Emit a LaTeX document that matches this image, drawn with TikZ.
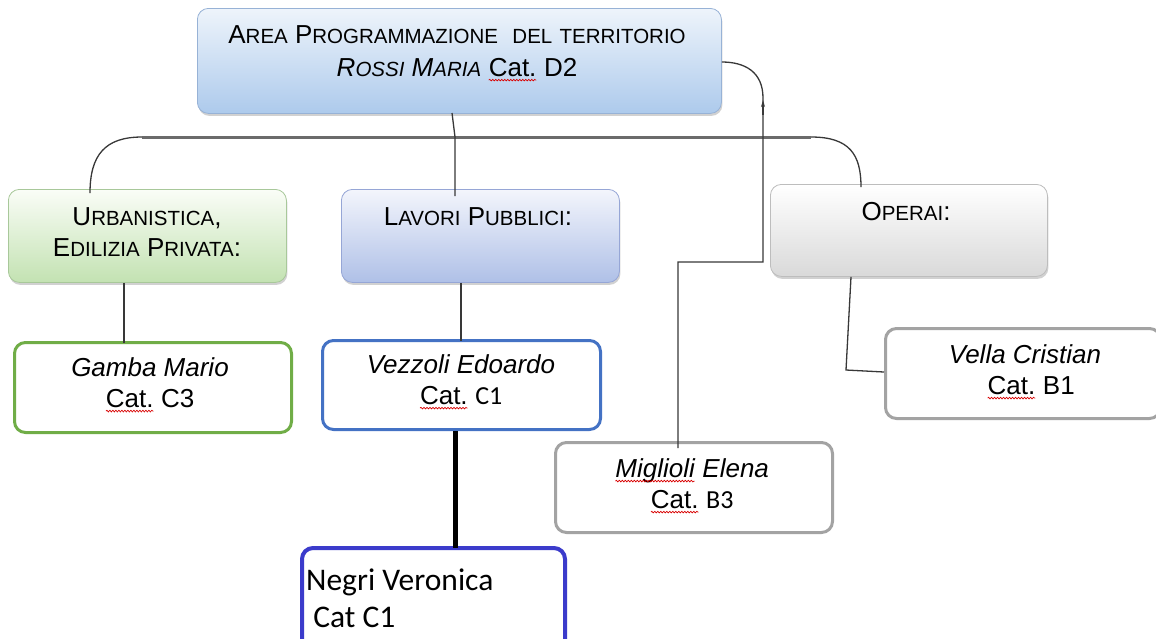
\documentclass[tikz,border=0pt]{standalone}
\usepackage{fontspec}
\setmainfont{Liberation Sans}
\newfontfamily\calib{Carlito}
\usetikzlibrary{shadows,decorations.pathmorphing,arrows.meta}
\newcommand\bigf{\fontsize{26}{31}\selectfont}
\newcommand\smc[2]{#1{\fontsize{20.5}{24}\selectfont #2}}
\newcommand\spl[1]{\tikz[baseline=(w.base)]{\node[inner sep=0pt,outer sep=0pt](w){#1};\draw[red!85!black,line width=0.7pt,decorate,decoration={snake,amplitude=0.8pt,segment length=3pt}]([yshift=-3.5pt]w.base west)--([yshift=-3.5pt]w.base east);}}
\definecolor{cgreen}{HTML}{70AD47}
\definecolor{cblue}{HTML}{4472C4}
\definecolor{cnavy}{HTML}{3B3BCB}
\definecolor{cgray}{HTML}{A3A3A3}
\definecolor{topT1}{HTML}{EEF4FB}
\definecolor{topB1}{HTML}{ADCAEC}
\definecolor{topD1}{HTML}{97B2D6}
\definecolor{grnT}{HTML}{FAFDF7}
\definecolor{grnB}{HTML}{C3E2B2}
\definecolor{grnD}{HTML}{A8C89A}
\definecolor{lavT1}{HTML}{F3F5FC}
\definecolor{lavB1}{HTML}{AFC0E7}
\definecolor{lavD1}{HTML}{96A6D6}
\definecolor{opeB1}{HTML}{D9D9D9}
\definecolor{opeD1}{HTML}{BDBDBD}
\tikzset{
  box/.style={rounded corners=11pt, inner sep=0pt, anchor=north west},
  shadedbox/.style={box, line width=0.8pt, drop shadow={shadow xshift=1pt, shadow yshift=-2.5pt, opacity=0.3, fill=black!60}},
  person/.style={box, fill=white, line width=3pt},
  txt/.style={inner sep=0pt, align=center, font=\bigf},
  conn/.style={draw=black!78, line width=1.3pt},
  bar/.style={draw=black!58, line width=3pt},
}
\begin{document}
\begin{tikzpicture}[x=1pt,y=-1pt]
\useasboundingbox (0,0) rectangle (1156,638);
% boxes
\node[shadedbox, top color=topT1, bottom color=topB1, draw=topD1, minimum width=524pt, minimum height=105pt] (top) at (197,8) {};
\node[shadedbox, top color=grnT, bottom color=grnB, draw=grnD, minimum width=278pt, minimum height=93pt] (urb) at (8,189) {};
\node[shadedbox, top color=lavT1, bottom color=lavB1, draw=lavD1, minimum width=278pt, minimum height=93pt] (lav) at (341,189) {};
\node[shadedbox, top color=white, bottom color=opeB1, draw=opeD1, minimum width=277pt, minimum height=92pt] (ope) at (770,184) {};
\node[person, draw=cgreen, minimum width=277pt, minimum height=90pt] (gam) at (13,341) {};
\node[person, draw=cblue, minimum width=278pt, minimum height=89pt] (vez) at (321,339) {};
\node[person, draw=cnavy, line width=4pt, minimum width=263pt, minimum height=110pt] (neg) at (300,546) {};
\node[person, draw=cgray, minimum width=277pt, minimum height=90pt] (mig) at (554,441) {};
\node[person, draw=cgray, minimum width=275pt, minimum height=90pt] (vel) at (884,327) {};
% texts
\node[txt, font=\fontsize{26}{33}\selectfont] (topT) at (457,53.5) {\smc{A}{REA} \smc{P}{ROGRAMMAZIONE}\ \ \smc{}{DEL} \smc{}{TERRITORIO}\\ \textit{\smc{R}{OSSI} \smc{M}{ARIA}} \spl{Cat.} D2};
\node[txt] (urbT) at (147,232.5) {\smc{U}{RBANISTICA},\\\smc{E}{DILIZIA} \smc{P}{RIVATA}:};
\node[txt] (lavT) at (478,217) {\smc{L}{AVORI} \smc{P}{UBBLICI}:};
\node[txt] (opeT) at (906,212) {\smc{O}{PERAI}:};
\node[txt] (gamT) at (150,385) {\textit{Gamba Mario}\\\spl{Cat.} C3};
\node[txt] (vezT) at (461,382) {\textit{Vezzoli Edoardo}\\\spl{Cat.} {\calib C1}};
\node[txt] (migT) at (692,486) {\textit{\spl{Miglioli} Elena}\\\spl{Cat.} {\calib B3}};
\node[txt] (velT) at (1025,372) {\textit{Vella Cristian}\\\hspace*{12pt}\spl{Cat.} B1};
\node[txt, align=left, anchor=west, font=\calib\fontsize{31.5}{37}\selectfont] (negT) at (306,598.5) {Negri Veronica\\\ Cat C1};
% connectors
\coordinate (barL) at (142,137);
\coordinate (barR) at (811,137);
\coordinate (barX) at (455,137);
\draw[bar] (barL) -- (barR);
\draw[conn] (barL) .. controls (105,137) and (90,155) .. ([yshift=-4pt]urb.north -| 90,0);
\draw[conn] (barR) .. controls (850,137) and (861,155) .. ([yshift=-3pt]ope.north -| 861,0);
\draw[conn] (452,113) -- (barX) -- ([yshift=-7pt]lav.north -| barX);
\draw[conn] (urb.south -| 124,0) -- ([yshift=-2pt]gam.north -| 124,0);
\draw[conn] (lav.south -| 461,0) -- ([yshift=-2pt]vez.north -| 461,0);
\draw[draw=black, line width=5pt] (vez.south -| 455,0) -- ([yshift=-2pt]neg.north -| 455,0);
\coordinate (oA) at (846,370);
\draw[conn] (ope.south -| 851,0) -- (oA) -- (vel.west |- 0,372);
\coordinate (mA) at (678,262);
\coordinate (mB) at (763,262);
\draw[conn] ([yshift=-7pt]mig.north -| mA) -- (mA) -- (mB) -- (763,98) .. controls (763,72) and (745,62) .. (top.east |- 0,62);
\draw[conn, -{Stealth[length=7pt,width=4pt]}] (763,115) -- (763,100);
\end{tikzpicture}
\end{document}
